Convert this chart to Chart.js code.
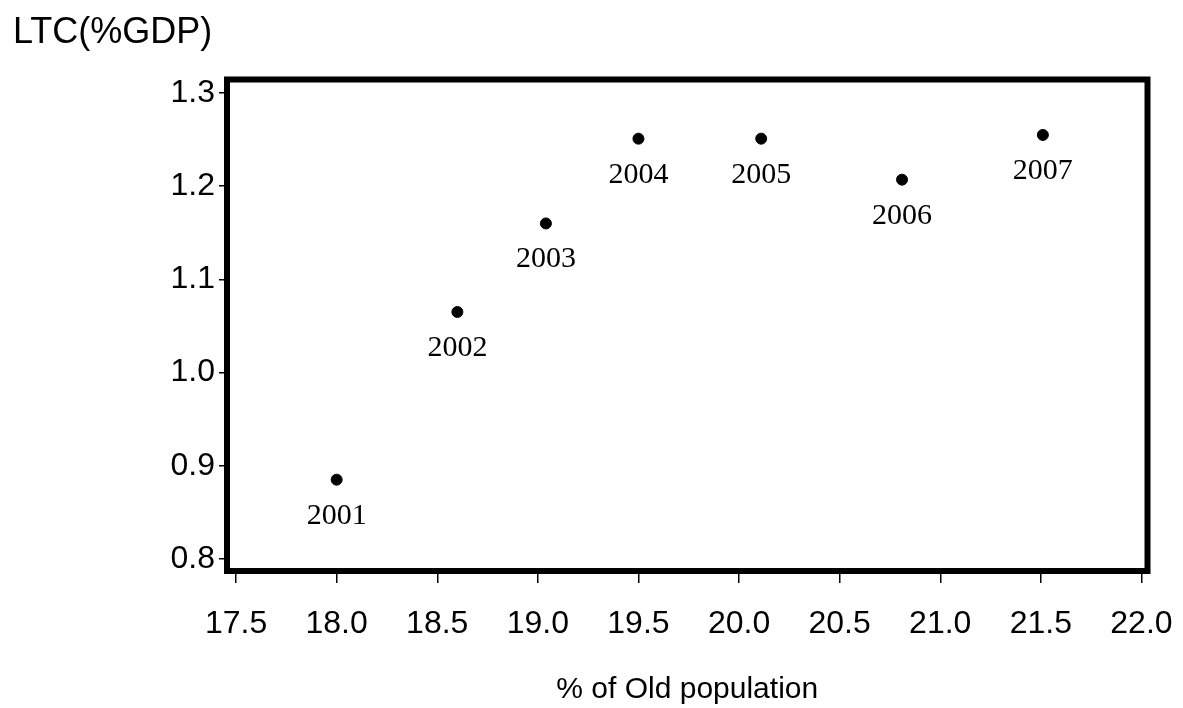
<!DOCTYPE html>
<html>
<head>
<meta charset="utf-8">
<title>LTC vs old population</title>
<script src="https://cdn.jsdelivr.net/npm/chart.js@4/dist/chart.umd.min.js"></script>
<style>
  body { margin: 0; background: #fff; }
  canvas { display: block; }
</style>
</head>
<body>
<canvas id="ltcChart" width="1183" height="708"></canvas>
<script>
// values
const years = ['2001', '2002', '2003', '2004', '2005', '2006', '2007'];
const oldPop = [18.0, 18.6, 19.04, 19.5, 20.11, 20.81, 21.51];
const ltcGdp = [0.885, 1.065, 1.160, 1.251, 1.251, 1.207, 1.255];

const yTitle = 'LTC(%GDP)';
const xTitle = '% of Old population';

const points = oldPop.map((x, i) => ({ x: x, y: ltcGdp[i] }));

// thick frame around the plot + year labels under each point
const framePlugin = {
  id: 'frame',
  afterDatasetsDraw(chart) {
    const ctx = chart.ctx;
    const a = chart.chartArea;
    ctx.save();
    ctx.strokeStyle = '#000';
    ctx.lineWidth = 6;
    ctx.strokeRect(a.left, a.top, a.right - a.left, a.bottom - a.top);

    ctx.fillStyle = '#000';
    ctx.font = '30px "Liberation Serif", "Times New Roman", serif';
    ctx.textAlign = 'center';
    ctx.textBaseline = 'middle';
    chart.getDatasetMeta(0).data.forEach((pt, i) => {
      ctx.fillText(years[i], pt.x, pt.y + 36);
    });

    ctx.font = '36px "Liberation Sans", Arial, sans-serif';
    ctx.textAlign = 'left';
    ctx.textBaseline = 'alphabetic';
    ctx.fillText(yTitle, 13, 43);
    ctx.restore();
  }
};

const ctx = document.getElementById('ltcChart').getContext('2d');
new Chart(ctx, {
  type: 'scatter',
  data: {
    datasets: [{
      data: points,
      backgroundColor: '#000',
      borderColor: '#000',
      pointRadius: 5.5,
      pointHoverRadius: 5.5
    }]
  },
  options: {
    responsive: false,
    animation: false,
    events: [],
    layout: { padding: { top: 79.5, right: 35.5, left: 0, bottom: 0 } },
    plugins: {
      legend: { display: false },
      tooltip: { enabled: false }
    },
    scales: {
      x: {
        type: 'linear',
        min: 17.455,
        max: 22.03,
        afterFit(scale) {
          scale.height = 137;
          scale.paddingLeft = 0;
          scale.paddingRight = 0;
        },
        border: { display: false },
        grid: { drawOnChartArea: false, drawTicks: true, tickLength: 12, color: '#000', lineWidth: 1.5 },
        ticks: {
          stepSize: 0.5,
          includeBounds: false,
          padding: 22,
          color: '#000',
          font: { family: '"Liberation Sans", Arial, sans-serif', size: 32 },
          callback: v => v.toFixed(1)
        },
        title: {
          display: true,
          text: xTitle,
          color: '#000',
          font: { family: '"Liberation Sans", Arial, sans-serif', size: 30 },
          padding: { top: 0, bottom: 0 }
        }
      },
      y: {
        min: 0.787,
        max: 1.3145,
        afterFit(scale) {
          scale.width = 227;
          scale.paddingTop = 0;
          scale.paddingBottom = 0;
        },
        border: { display: false },
        grid: { drawOnChartArea: false, drawTicks: true, tickLength: 8, color: '#000', lineWidth: 1.5 },
        ticks: {
          stepSize: 0.1,
          includeBounds: false,
          padding: 4,
          color: '#000',
          font: { family: '"Liberation Sans", Arial, sans-serif', size: 32 },
          callback: v => v.toFixed(1)
        }
      }
    }
  },
  plugins: [framePlugin]
});
</script>
</body>
</html>
